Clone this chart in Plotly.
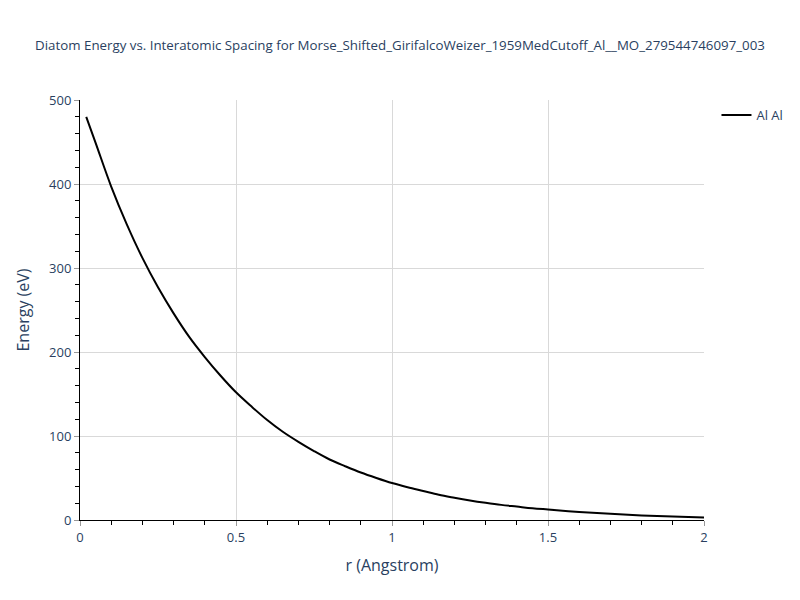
import plotly.graph_objects as go

r_values = [0.02, 0.05, 0.1, 0.15, 0.2, 0.25, 0.3, 0.35, 0.4, 0.45, 0.5,
            0.55, 0.6, 0.65, 0.7, 0.75, 0.8, 0.85, 0.9, 0.95, 1.0,
            1.05, 1.1, 1.15, 1.2, 1.25, 1.3, 1.35, 1.4, 1.45, 1.5,
            1.6, 1.7, 1.8, 1.9, 2.0]
energy_values = [480, 449, 397, 352, 312, 277, 246, 218, 194, 172, 152,
                 135, 119, 105, 93, 82, 72, 64, 56.5, 50, 44,
                 39, 34.5, 30, 26.5, 23.3, 20.5, 18, 16, 14, 12.5,
                 9.6, 7.3, 5.5, 4.1, 3.0]
series_name = "Al Al"
title_text = "Diatom Energy vs. Interatomic Spacing for Morse_Shifted_GirifalcoWeizer_1959MedCutoff_Al__MO_279544746097_003"

fig = go.Figure()
fig.add_trace(go.Scatter(x=r_values, y=energy_values, mode="lines",
                         name=series_name, line_shape="spline",
                         line=dict(color="black", width=2)))

axis_common = dict(
    showline=True, linecolor="black", linewidth=1,
    ticks="outside", ticklen=5, tickcolor="#999",
    showgrid=True, gridcolor="#d9d9d9", gridwidth=1,
    zeroline=False,
    tickfont=dict(size=13, color="#2a3f5f"),
    title_font=dict(size=16, color="#2a3f5f"),
)

fig.update_layout(
    width=800, height=600,
    paper_bgcolor="white", plot_bgcolor="white",
    title=dict(text=title_text, x=0.5, xanchor="center",
               font=dict(size=13.3, color="#2a3f5f")),
    showlegend=True,
    legend=dict(font=dict(size=13, color="#2a3f5f")),
)
fig.update_xaxes(title_text="r (Angstrom)", range=[0, 2], dtick=0.5,
                 minor=dict(ticks="outside", dtick=0.1, ticklen=4, tickcolor="black", showgrid=False),
                 **axis_common)
fig.update_yaxes(title_text="Energy (eV)", range=[0, 500], dtick=100,
                 minor=dict(ticks="outside", dtick=20, ticklen=4, tickcolor="black", showgrid=False),
                 **axis_common)

fig.write_html("out.html", config={"displayModeBar": False},
               post_script="document.body.style.margin='0';")
